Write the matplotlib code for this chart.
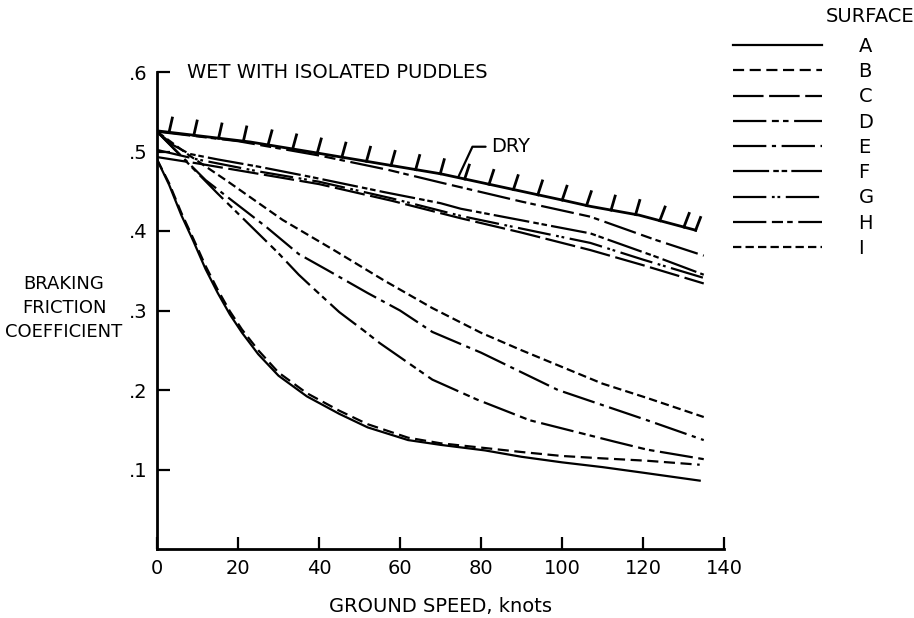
import matplotlib
matplotlib.use('Agg')
import matplotlib.pyplot as plt
import matplotlib.patheffects as pe

plt.rcParams['font.family'] = ['DejaVu Sans']
plt.rcParams['lines.scale_dashes'] = False

# ground speed (knots) / braking friction coefficient
dry_speed = [0, 23, 38.5, 70, 100, 107, 119, 133]
dry_mu = [.526, .512, .499, .472, .439, .431, .420, .401]
hook_speed = [133, 134.2]
hook_mu = [.401, .417]

speed_A = [0, 3, 6, 9, 12, 15, 18, 21, 25, 30, 37, 45, 52, 62, 70, 81, 90, 100, 110, 120, 134]
mu_A = [.49, .458, .42, .387, .352, .322, .295, .272, .245, .218, .192, .170, .153, .137, .131, .124, .116, .109, .103, .096, .086]

speed_B = [0, 3, 6, 9, 12, 15, 18, 21, 25, 30, 37, 45, 52, 62, 70, 81, 90, 100, 110, 121, 134]
mu_B = [.49, .46, .423, .39, .356, .326, .299, .276, .25, .222, .196, .174, .157, .14, .133, .127, .122, .117, .114, .111, .106]

speed_C = [0, 10, 25, 40, 58, 75, 90, 107, 120, 135]
mu_C = [.493, .485, .472, .459, .438, .416, .398, .376, .357, .334]

speed_D = [0, 15, 30, 35, 39, 45, 51, 55, 68, 79, 92, 113, 121, 135]
mu_D = [.525, .447, .372, .345, .326, .298, .275, .259, .213, .188, .162, .135, .125, .113]

speed_E = [0, 12, 27, 35, 42, 52, 60, 68, 80, 99, 121, 135]
mu_E = [.525, .464, .405, .371, .351, .322, .30, .273, .247, .20, .162, .137]

speed_F = [0, 4, 8, 15, 25, 38, 56, 70, 75, 107, 123, 135]
mu_F = [.525, .508, .497, .49, .481, .468, .449, .435, .428, .397, .368, .345]

speed_G = [0, 10, 25, 40, 58, 75, 90, 107, 120, 135]
mu_G = [.502, .49, .475, .462, .441, .419, .403, .385, .364, .341]

speed_H = [0, 20, 40, 57, 70, 90, 107, 123, 135]
mu_H = [.525, .513, .495, .477, .461, .437, .418, .389, .369]

speed_I = [0, 8, 17, 31, 44, 56, 68, 80, 90, 100, 110, 121, 135]
mu_I = [.525, .495, .464, .414, .375, .338, .303, .272, .25, .229, .208, .19, .166]

surfaces = ['A', 'B', 'C', 'D', 'E', 'F', 'G', 'H', 'I']
speeds = [speed_A, speed_B, speed_C, speed_D, speed_E, speed_F, speed_G, speed_H, speed_I]
mus = [mu_A, mu_B, mu_C, mu_D, mu_E, mu_F, mu_G, mu_H, mu_I]
styles = [
    '-',
    (0, (8, 4)),
    (0, (22, 4)),
    (0, (24, 4, 5, 3, 4, 4)),
    (0, (24, 4, 3, 4)),
    (0, (26, 3, 4, 2, 4, 3)),
    (0, (24, 4, 2, 2, 2, 4)),
    (0, (24, 4, 8, 3, 4, 4)),
    (0, (6, 3)),
]

x_ticks = [0, 20, 40, 60, 80, 100, 120, 140]
y_ticks = [.1, .2, .3, .4, .5, .6]
y_tick_labels = ['.1', '.2', '.3', '.4', '.5', '.6']

fig = plt.figure(figsize=(9.14, 6.18), dpi=100)
ax = fig.add_axes([157 / 914, 69 / 618, 567 / 914, 477 / 618])

lines = []
for s, x, y, ls in zip(surfaces, speeds, mus, styles):
    ln, = ax.plot(x, y, color='black', linewidth=1.6, linestyle=ls, label=s)
    lines.append(ln)

ax.plot(dry_speed, dry_mu, color='black', linewidth=2,
        path_effects=[pe.withTickedStroke(spacing=17.5, angle=84, length=0.6)])
ax.plot(hook_speed, hook_mu, color='black', linewidth=2)

# leader from the dry curve up to the label
ax.annotate('DRY', xy=(74.5, .469), xytext=(82.5, .506),
            fontsize=14, ha='left', va='center',
            arrowprops=dict(arrowstyle='-', color='black', linewidth=1.6,
                            connectionstyle='angle,angleA=0,angleB=65,rad=0',
                            relpos=(0, 0.5), shrinkA=2, shrinkB=0))

ax.text(7.5, .6, 'WET WITH ISOLATED PUDDLES', fontsize=14, ha='left', va='center')

ax.set_xlim(0, 140)
ax.set_ylim(0, .6)
ax.set_xticks(x_ticks)
ax.set_yticks(y_ticks)
ax.set_yticklabels(y_tick_labels)
ax.tick_params(direction='in', length=9, width=1.6, labelsize=14, pad=7)
for side in ['top', 'right']:
    ax.spines[side].set_visible(False)
for side in ['left', 'bottom']:
    ax.spines[side].set_linewidth(2)

ax.set_xlabel('GROUND SPEED, knots', fontsize=14, labelpad=14)
fig.text(64 / 914, 1 - 308 / 618, 'BRAKING\nFRICTION\nCOEFFICIENT', fontsize=13,
         ha='center', va='center', linespacing=1.45)

fig.text(870 / 914, 1 - 17 / 618, 'SURFACE', fontsize=14, ha='center', va='center')
leg = fig.legend(handles=lines, loc='upper left', bbox_to_anchor=(733 / 914, 1 - 37 / 618),
                 frameon=False, fontsize=14, handlelength=4.6, handletextpad=1.85,
                 labelspacing=0.32, borderaxespad=0, borderpad=0)

fig.savefig('out.png', dpi=100)
